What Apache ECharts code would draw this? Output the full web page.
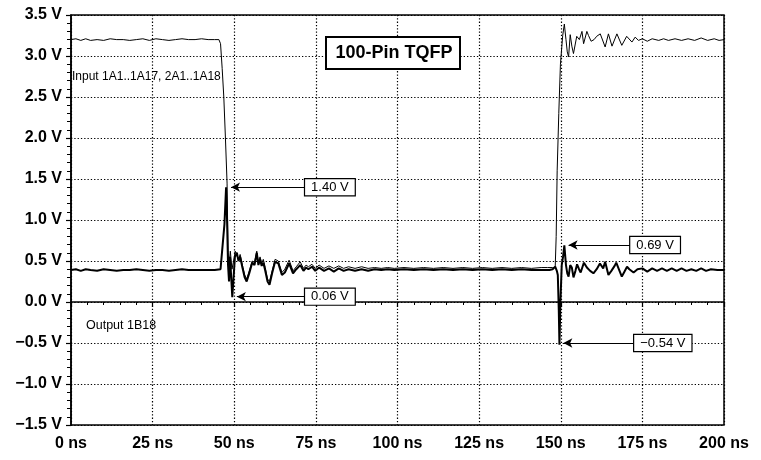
<!DOCTYPE html>
<html>
<head>
<meta charset="utf-8">
<script src="https://cdn.jsdelivr.net/npm/echarts@6/dist/echarts.min.js"></script>
<style>
html,body{margin:0;padding:0;background:#fff;}
#c{width:761px;height:460px;}
</style>
</head>
<body>
<div id="c"></div>
<script>
// Tick labels
var xTicks = [0, 25, 50, 75, 100, 125, 150, 175, 200];
var yTicks = [-1.5, -1.0, -0.5, 0.0, 0.5, 1.0, 1.5, 2.0, 2.5, 3.0, 3.5];

// Input 1A1..1A17, 2A1..1A18 (thin trace): [time ns, volts]
var inputPts = [
  [0,3.20],[1.5,3.21],[3,3.19],[4.5,3.21],[6,3.19],[8,3.20],[10,3.19],[12,3.21],[14,3.20],[16,3.20],
  [18,3.19],[20,3.20],[22,3.21],[24,3.19],[26,3.21],[28,3.20],[30,3.19],[32,3.20],[34,3.21],[36,3.20],
  [38,3.20],[40,3.21],[42,3.20],[44,3.20],[45.3,3.20],[45.8,3.15],[46.3,2.85],[46.8,2.50],[47.3,2.00],[47.8,1.45],
  [48.1,0.60],[48.4,0.45],[48.8,0.62],[49.3,0.40],[49.8,0.50],[50.3,0.62],[50.8,0.62],[51.3,0.52],[51.8,0.58],[52.5,0.45],
  [53.2,0.33],[53.8,0.28],[54.6,0.38],[55.5,0.50],[56.2,0.48],[56.9,0.62],[57.4,0.48],[57.9,0.55],[58.4,0.47],[58.9,0.52],
  [59.5,0.42],[60.2,0.28],[60.8,0.25],[61.6,0.38],[62.5,0.52],[63.5,0.50],[64.6,0.36],[65.5,0.40],[66.1,0.42],[66.8,0.51],
  [68.0,0.38],[69,0.43],[70.2,0.49],[71.2,0.41],[72,0.45],[72.7,0.43],[73.8,0.46],[74.8,0.41],[76,0.45],[77.5,0.41],
  [79,0.44],[80.5,0.41],[82,0.44],[83.5,0.41],[85,0.43],[87,0.41],[89,0.43],[91,0.41],[93,0.42],[95,0.41],
  [97,0.42],[99,0.41],[102,0.42],[105,0.41],[108,0.42],[111,0.41],[114,0.42],[117,0.41],[120,0.42],[123,0.41],
  [126,0.42],[129,0.41],[132,0.42],[135,0.41],[138,0.42],[141,0.41],[144,0.42],[146,0.42],[147.5,0.42],[148.3,0.42],
  [148.6,0.80],[148.9,1.60],[149.4,2.30],[149.9,2.90],[150.2,3.05],[150.6,3.25],[151.1,3.39],[151.6,3.20],[152.0,3.05],[152.4,2.99],
  [152.9,3.26],[153.4,3.12],[153.9,3.03],[154.9,3.24],[155.7,3.20],[156.5,3.30],[157.0,3.15],[158.0,3.30],[158.5,3.25],[159.3,3.18],
  [160.2,3.20],[161,3.24],[162.1,3.27],[163.6,3.11],[164.6,3.27],[165.7,3.12],[167.2,3.27],[168.7,3.13],[170.2,3.24],[171.8,3.17],
  [172.8,3.23],[173.8,3.19],[175,3.21],[176.5,3.18],[178,3.21],[180,3.19],[181.5,3.21],[183,3.19],[185,3.21],[187,3.19],
  [189,3.21],[191,3.19],[193,3.22],[195,3.19],[197,3.21],[198.5,3.19],[200,3.20]
];

// Output 1B18 (thick trace): [time ns, volts]
var outputPts = [
  [0,0.39],[1.5,0.40],[3,0.38],[4.5,0.40],[6,0.39],[8,0.38],[10,0.40],[12,0.39],[14,0.38],[16,0.39],
  [18,0.39],[20,0.40],[22,0.39],[24,0.38],[26,0.39],[28,0.39],[30,0.38],[32,0.39],[34,0.40],[36,0.39],
  [38,0.39],[40,0.39],[42,0.39],[44,0.39],[45.8,0.40],[46.4,0.42],[47.0,0.95],[47.5,1.40],[47.8,1.00],[48.1,0.45],
  [48.4,0.25],[48.7,0.55],[49.0,0.35],[49.4,0.06],[49.8,0.30],[50.2,0.55],[50.8,0.60],[51.3,0.50],[51.8,0.55],[52.5,0.42],
  [53.2,0.30],[53.8,0.25],[54.6,0.35],[55.5,0.48],[56.2,0.45],[56.9,0.60],[57.4,0.45],[57.9,0.52],[58.4,0.44],[58.9,0.48],
  [59.5,0.38],[60.2,0.25],[60.8,0.21],[61.6,0.35],[62.5,0.49],[63.5,0.47],[64.6,0.33],[65.5,0.36],[66.1,0.38],[66.8,0.47],
  [68.0,0.35],[69,0.40],[70.2,0.45],[71.2,0.38],[72,0.42],[72.7,0.40],[73.8,0.43],[74.8,0.38],[76,0.42],[77.5,0.38],
  [79,0.41],[80.5,0.37],[82,0.41],[83.5,0.38],[85,0.40],[87,0.38],[89,0.40],[91,0.38],[93,0.40],[95,0.39],
  [97,0.40],[99,0.39],[102,0.40],[105,0.39],[108,0.40],[111,0.39],[114,0.40],[117,0.39],[120,0.40],[123,0.39],
  [126,0.40],[129,0.39],[132,0.40],[135,0.39],[138,0.40],[141,0.39],[144,0.39],[146.5,0.39],[147.5,0.40],[148.3,0.43],
  [148.8,0.38],[149.1,0.33],[149.4,-0.10],[149.6,-0.52],[149.9,0.00],[150.3,0.45],[150.7,0.55],[151.1,0.69],[151.6,0.45],[152.0,0.35],
  [152.4,0.31],[152.9,0.45],[153.4,0.42],[153.9,0.30],[154.5,0.38],[155.0,0.46],[155.6,0.40],[156.1,0.36],[156.6,0.42],[157.1,0.48],
  [158,0.42],[159,0.38],[160,0.35],[161,0.40],[162,0.47],[163,0.41],[163.6,0.49],[164.6,0.33],[165.5,0.38],[166.5,0.44],
  [167,0.48],[168,0.38],[168.7,0.31],[169.5,0.37],[170.3,0.43],[171,0.40],[172.3,0.36],[173.5,0.40],[175,0.41],[176.5,0.37],
  [178,0.41],[179.5,0.38],[181,0.41],[182.5,0.38],[184,0.41],[185.5,0.38],[187,0.41],[188.5,0.38],[190,0.40],[191.5,0.38],
  [193,0.41],[194.5,0.38],[196,0.40],[198,0.39],[200,0.39]
];

// Annotations
var annoLabels = ['1.40 V', '0.06 V', '0.69 V', '\u22120.54 V'];
var annoV = [1.40, 0.065, 0.695, -0.50];
var annoHeadT = [49.0, 50.8, 152.4, 150.8];
var annoBoxT = [71.7, 71.7, 171.3, 172.5];

var markData = annoLabels.map(function (lab, i) {
  return [
    { coord: [annoBoxT[i], annoV[i]], label: { formatter: lab } },
    { coord: [annoHeadT[i], annoV[i]] }
  ];
});

var chart = echarts.init(document.getElementById('c'), null, { renderer: 'canvas' });
var FONT = '"Liberation Sans", Arial, Helvetica, sans-serif';
chart.setOption({
  animation: false,
  backgroundColor: '#fff',
  grid: { left: 71, right: 37, top: 15, bottom: 35, show: true, borderColor: '#000', borderWidth: 1.5, backgroundColor: 'transparent' },
  xAxis: {
    type: 'value', min: 0, max: 200, interval: 25,
    axisLine: { show: true, lineStyle: { color: '#000', width: 1.5 } },
    axisTick: { show: true, inside: false, length: 5, lineStyle: { color: '#000', width: 1.2 } },
    minorTick: { show: true, splitNumber: 5, length: 3, lineStyle: { color: '#000', width: 1 } },
    splitLine: { show: true, lineStyle: { color: '#000', width: 1.2, type: [1.3, 2] } },
    axisLabel: { color: '#000', fontFamily: FONT, fontWeight: 'bold', fontSize: 16, margin: 11,
      formatter: function (v) { return xTicks.indexOf(v) >= 0 ? v + ' ns' : ''; } }
  },
  yAxis: {
    type: 'value', min: -1.5, max: 3.5, interval: 0.5,
    axisLine: { show: true, lineStyle: { color: '#000', width: 1.5 } },
    axisTick: { show: true, inside: false, length: 5, lineStyle: { color: '#000', width: 1.2 } },
    minorTick: { show: true, splitNumber: 5, length: 4, lineStyle: { color: '#000', width: 1 } },
    splitLine: { show: true, lineStyle: { color: '#000', width: 1.2, type: [1.3, 2] } },
    axisLabel: { color: '#000', fontFamily: FONT, fontWeight: 'bold', fontSize: 16, margin: 9,
      formatter: function (v) {
        var s = Math.abs(v).toFixed(1);
        return (v < 0 ? '\u2212' : '') + s + ' V';
      } }
  },
  series: [
    {
      name: 'Input 1A1..1A17, 2A1..1A18', type: 'line', showSymbol: false, symbol: 'none',
      data: inputPts, z: 3,
      lineStyle: { color: '#000', width: 1 }
    },
    {
      name: 'Output 1B18', type: 'line', showSymbol: false, symbol: 'none',
      data: outputPts, z: 4,
      lineStyle: { color: '#000', width: 2 },
      markLine: {
        silent: true, symbol: ['none', 'arrow'], symbolSize: [7, 9], precision: 3,
        lineStyle: { color: '#000', width: 1, type: 'solid' },
        label: { show: true, position: 'start', distance: 0, color: '#000', fontFamily: FONT, fontSize: 13,
          backgroundColor: '#fff', borderColor: '#000', borderWidth: 1.2, padding: [2, 6, 1, 6] },
        emphasis: { disabled: true },
        data: markData
      }
    }
  ],
  graphic: [
    { type: 'rect', left: 325, top: 36, z: 10, shape: { width: 134, height: 32 },
      style: { fill: '#fff', stroke: '#000', lineWidth: 2 } },
    { type: 'text', x: 394, y: 53, z: 11,
      style: { text: '100-Pin TQFP', fill: '#000', font: 'bold 18px ' + FONT, align: 'center', verticalAlign: 'middle' } },
    { type: 'text', left: 72, top: 71, z: 11,
      style: { text: 'Input 1A1..1A17, 2A1..1A18', fill: '#000', font: '12px ' + FONT } },
    { type: 'text', left: 86, top: 319, z: 11,
      style: { text: 'Output 1B18', fill: '#000', font: '12.5px ' + FONT } }
  ]
});
</script>
</body>
</html>
